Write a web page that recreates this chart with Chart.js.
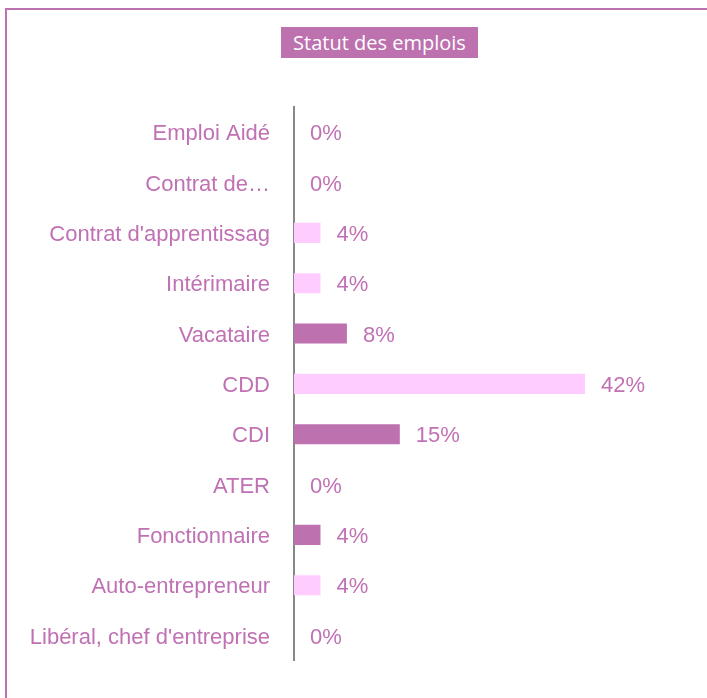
<!DOCTYPE html>
<html>
<head>
<meta charset="utf-8">
<script src="https://cdn.jsdelivr.net/npm/chart.js@4/dist/chart.umd.min.js"></script>
<style>
  body { margin: 0; background: #fff; }
  #wrap { position: relative; width: 707px; height: 698px; overflow: hidden; }
  #frame { position: absolute; left: 5px; top: 8px; width: 720px; height: 720px;
           border-left: 2px solid #BD71AF; border-top: 2px solid #BD71AF; }
  #title { position: absolute; left: 281px; top: 27px; width: 197px; height: 31px;
           background: #BD71AF; color: #fff; font-family: "Open Sans", sans-serif;
           font-size: 20px; line-height: 31px; text-align: center; }
  canvas { position: absolute; left: 0; top: 0; }
</style>
</head>
<body>
<div id="wrap">
  <div id="frame"></div>
  <div id="title">Statut des emplois</div>
  <canvas id="barChart" width="707" height="698"></canvas>
</div>
<script>
// categories, top to bottom
var categories = ['Emploi Aidé', 'Contrat de…', "Contrat d'apprentissag", 'Intérimaire', 'Vacataire',
    'CDD', 'CDI', 'ATER', 'Fonctionnaire', 'Auto-entrepreneur', "Libéral, chef d'entreprise"];
// share of answers in %
var shares = [0, 0, 3.85, 3.85, 7.69, 42.31, 15.38, 0, 3.85, 3.85, 0];
var barColors = ['#FFCCFF', '#FFCCFF', '#FFCCFF', '#FFCCFF', '#BD71AF',
    '#FFCCFF', '#BD71AF', '#BD71AF', '#BD71AF', '#FFCCFF', '#BD71AF'];

var pink = '#C071B4';

var valueLabels = {
    id: 'valueLabels',
    afterDatasetsDraw: function (chart) {
        var ctx = chart.ctx;
        var meta = chart.getDatasetMeta(0);
        ctx.save();
        ctx.font = '22px "Liberation Sans", Arial, sans-serif';
        ctx.fillStyle = pink;
        ctx.textAlign = 'left';
        ctx.textBaseline = 'middle';
        meta.data.forEach(function (bar, i) {
            ctx.fillText(Math.round(shares[i]) + '%', bar.x + 16, bar.y + 2);
        });
        ctx.restore();
    }
};

var ctx = document.getElementById('barChart').getContext('2d');
var myChart = new Chart(ctx, {
    type: 'bar',
    data: {
        labels: categories,
        datasets: [{
            data: shares,
            backgroundColor: barColors,
            borderWidth: 0,
            categoryPercentage: 1,
            barPercentage: 0.4
        }]
    },
    options: {
        indexAxis: 'y',
        responsive: false,
        animation: false,
        layout: { padding: { top: 107, bottom: 35, left: 0, right: 69 } },
        plugins: {
            legend: { display: false },
            tooltip: { enabled: false }
        },
        scales: {
            x: { display: false, min: 0, max: 50 },
            y: {
                afterFit: function (scale) { scale.width = 294; },
                grid: { display: false, drawTicks: false },
                border: { display: true, color: '#888888', width: 2 },
                ticks: {
                    padding: 24,
                    labelOffset: 2,
                    color: pink,
                    font: { family: '"Liberation Sans", Arial, sans-serif', size: 22 }
                }
            }
        }
    },
    plugins: [valueLabels]
});
</script>
</body>
</html>
